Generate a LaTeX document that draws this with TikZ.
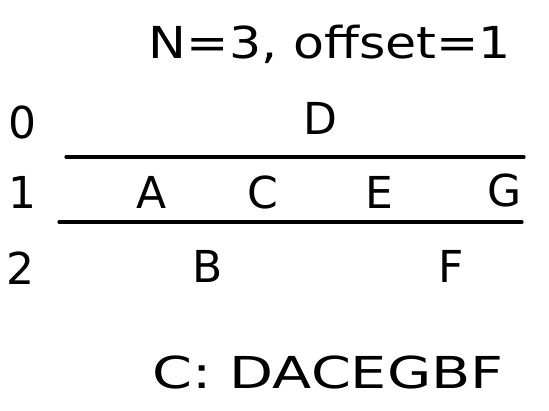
\documentclass[tikz,border=0pt]{standalone}
\usepackage{fontspec}
\setmainfont{DejaVu Sans}
\begin{document}
\begin{tikzpicture}[x=1pt,y=-1pt,
  lbl/.style={font=\fontsize{44}{48}\selectfont, inner sep=0pt, anchor=center},
  big/.style={font=\fontsize{44}{48}\selectfont, inner sep=0pt, anchor=center},
  rail/.style={line width=3.2pt, black, line cap=round}]
\useasboundingbox[fill=white] (0,0) rectangle (549,410);
\node[big, xscale=1.15] (title) at (330,44) {N=3, offset=1};
\node[lbl] (r0) at (22,122) {0};
\node[lbl] (r1) at (22,192) {1};
\node[lbl] (r2) at (20,268) {2};
\node[lbl] (D) at (320,118) {D};
\coordinate (l1a) at (66,157);
\coordinate (l1b) at (524,157);
\draw[rail] (l1a) -- (l1b);
\node[lbl] (A) at (152,192) {A};
\node[lbl] (C) at (263,192) {C};
\node[lbl] (E) at (379,192) {E};
\node[lbl] (G) at (505,190) {G};
\coordinate (l2a) at (59,222);
\coordinate (l2b) at (522,222);
\draw[rail] (l2a) -- (l2b);
\node[lbl] (B) at (208,266) {B};
\node[lbl] (F) at (451,266) {F};
\node[big, xscale=1.3] (res) at (328,372) {C: DACEGBF};
\end{tikzpicture}
\end{document}
